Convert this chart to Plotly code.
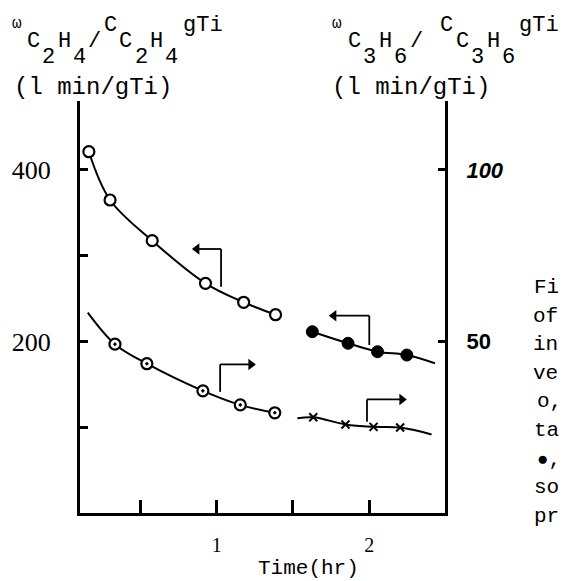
import plotly.graph_objects as go

# ---------------- data ----------------
# Time (hr)
t_c2h4_open = [0.163, 0.302, 0.578, 0.927, 1.177, 1.386]
w_c2h4_open = [421.1, 364.8, 317.4, 267.7, 245.6, 231.1]      # left axis

t_c3h6_dot = [0.334, 0.543, 0.910, 1.155, 1.381]
w_c3h6_dot = [49.2, 43.5, 35.6, 31.5, 29.2]                    # right axis

t_c2h4_solid = [1.627, 1.861, 2.054, 2.246]
w_c2h4_solid = [211.3, 197.8, 188.0, 184.1]                    # left axis

t_c3h6_x = [1.633, 1.844, 2.028, 2.202]
w_c3h6_x = [27.9, 25.8, 25.1, 24.9]                            # right axis

# hand-drawn curves: where each drawn curve starts / ends beyond the points
curve_c3h6_dot_start = (0.156, 58.4)
curve_c2h4_solid_end = (2.430, 174.5)
curve_c3h6_x_start = (1.529, 27.6)
curve_c3h6_x_end = (2.408, 22.9)

x_tickvals = [0.5, 1.0, 1.5, 2.0]
x_ticktext = ["", "1", "", "2"]
y_tickvals = [100, 200, 300, 400]
y_ticktext = ["", "200", "", "400"]
y2_tickvals = [50, 100]
y2_ticktext = ["<b>50</b>", "<b><i>100</i></b>"]

# axis headers, typewriter style: (text, level) per typed position
# level: 1 = raised, 0 = on the line, -1 = lowered
left_header = [("C", 0), ("2", -1), ("H", 0), ("4", -1), ("/", 0), ("C", 1),
               ("C", 0), ("2", -1), ("H", 0), ("4", -1), ("gTi", 1)]
right_header = [("C", 0), ("3", -1), ("H", 0), ("6", -1), ("/", 0), ("", 0), ("C", 1),
                ("C", 0), ("3", -1), ("H", 0), ("6", -1), ("gTi", 1)]
unit_text = "(l min/gTi)"
x_title = "Time(hr)"
caption_lines = ["Fi", "of", "in", "ve", "o,", "ta", "\u25cf,", "so", "pr"]

# ---------------- figure geometry ----------------
W, H = 563, 581
ML, MR, MT, MB = 78, 118, 101, 68
PW, PH = W - ML - MR, H - MT - MB
BOT = MT + PH
MONO = "Liberation Mono"
SERIF = "Liberation Serif"
XR = [0.105, 2.496]


def xp(px):
    return (px - ML) / PW


def yp(py):
    return (BOT - py) / PH


fig = go.Figure()

line_style = dict(color="black", width=2, shape="spline", smoothing=1.0)

# curves
fig.add_trace(go.Scatter(x=t_c2h4_open, y=w_c2h4_open, mode="lines",
                         line=line_style, hoverinfo="skip"))
fig.add_trace(go.Scatter(x=[curve_c3h6_dot_start[0]] + t_c3h6_dot,
                         y=[curve_c3h6_dot_start[1]] + w_c3h6_dot,
                         mode="lines", line=line_style, yaxis="y2", hoverinfo="skip"))
fig.add_trace(go.Scatter(x=t_c2h4_solid + [curve_c2h4_solid_end[0]],
                         y=w_c2h4_solid + [curve_c2h4_solid_end[1]],
                         mode="lines", line=line_style, hoverinfo="skip"))
fig.add_trace(go.Scatter(x=[curve_c3h6_x_start[0]] + t_c3h6_x + [curve_c3h6_x_end[0]],
                         y=[curve_c3h6_x_start[1]] + w_c3h6_x + [curve_c3h6_x_end[1]],
                         mode="lines", line=line_style, yaxis="y2", hoverinfo="skip"))

# markers
fig.add_trace(go.Scatter(x=t_c2h4_open, y=w_c2h4_open, mode="markers",
                         marker=dict(symbol="circle", size=11, color="white",
                                     line=dict(color="black", width=2.2))))
fig.add_trace(go.Scatter(x=t_c3h6_dot, y=w_c3h6_dot, mode="markers", yaxis="y2",
                         marker=dict(symbol="circle-dot", size=11, color="white",
                                     line=dict(color="black", width=2.2))))
fig.add_trace(go.Scatter(x=t_c2h4_solid, y=w_c2h4_solid, mode="markers",
                         marker=dict(symbol="circle", size=12, color="black",
                                     line=dict(color="black", width=1))))
fig.add_trace(go.Scatter(x=t_c3h6_x, y=w_c3h6_x, mode="markers", yaxis="y2",
                         marker=dict(symbol="x-thin", size=8, color="black",
                                     line=dict(color="black", width=2))))

# ---------------- bracket arrows (pointing to the axis each curve uses) ----------------
arrows = [
    # (x of stem, y stem bottom, y stem top, x arrow tip, axis)
    (1.029, 263.8, 307.7, 0.838, "y"),
    (1.023, 35.3, 43.3, 1.257, "y2"),
    (2.000, 195.8, 230.0, 1.735, "y"),
    (1.985, 26.6, 33.1, 2.246, "y2"),
]
px_per_hr = PW / (XR[1] - XR[0])
shapes = []
annotations = []
for xs, yb, yt, xtip, ax in arrows:
    direction = 1 if xtip > xs else -1
    shapes.append(dict(type="line", xref="x", yref=ax, x0=xs, x1=xs, y0=yb, y1=yt,
                       line=dict(color="black", width=1.8)))
    shapes.append(dict(type="line", xref="x", yref=ax, x0=xs, x1=xtip - direction * 5 / px_per_hr,
                       y0=yt, y1=yt, line=dict(color="black", width=1.8)))
    fig.add_trace(go.Scatter(
        x=[xtip - direction * 5 / px_per_hr], y=[yt], mode="markers",
        yaxis="y2" if ax == "y2" else "y", hoverinfo="skip",
        marker=dict(symbol="triangle-right" if direction > 0 else "triangle-left",
                    size=10, color="black", line=dict(width=0))))


def txt(s, px, py, size, xanchor="left", family=MONO, yanchor="middle"):
    annotations.append(dict(text=s, x=xp(px), y=yp(py), xref="paper", yref="paper",
                            xanchor=xanchor, yanchor=yanchor, showarrow=False,
                            borderpad=0, align="left",
                            font=dict(family=family, size=size, color="black")))


# ---------------- axis headers ----------------
STEP = 15.5
LEVEL_Y = {1: 26, 0: 41, -1: 57}
HF = 22


def header(parts, x0, omega_x):
    txt("\u03c9", omega_x, 24, 16, xanchor="center")
    i = 0
    for s, lvl in parts:
        if s:
            cx = x0 + STEP * (i + (len(s) - 1) / 2)
            txt(s, cx, LEVEL_Y[lvl], HF, xanchor="center")
        i += max(len(s), 1)


header(left_header, 31, 15)
header(right_header, 354, 336)
txt(unit_text, 10.5, 87, 24)
txt(unit_text, 330.5, 87, 24)

# x-axis title
txt(x_title, 308, 568, 21, xanchor="center")

# truncated caption at right edge
cap_x = [533, 532, 532, 532, 536, 533, 536, 533, 533]
for i, (s, cx) in enumerate(zip(caption_lines, cap_x)):
    if s.startswith("\u25cf"):
        s = "<span style='font-size:19px'>\u25cf</span>,"
    txt(s, cx, 287.5 + 28.6 * i, 21)

fig.update_layout(
    width=W, height=H,
    margin=dict(l=ML, r=MR, t=MT, b=MB, pad=0),
    paper_bgcolor="white", plot_bgcolor="white",
    showlegend=False,
    shapes=shapes, annotations=annotations,
    xaxis=dict(range=XR, showgrid=False, zeroline=False,
               showline=True, linecolor="black", linewidth=3,
               ticks="inside", ticklen=13, tickwidth=2.5, tickcolor="black",
               tickvals=x_tickvals, ticktext=x_ticktext,
               tickfont=dict(family=SERIF, size=20, color="black"),
               ticklabelstandoff=12),
    yaxis=dict(range=[0, 480.2], showgrid=False, zeroline=False,
               showline=True, linecolor="black", linewidth=3,
               ticks="inside", ticklen=8, tickwidth=2.5, tickcolor="black",
               tickvals=y_tickvals, ticktext=y_ticktext,
               tickfont=dict(family=SERIF, size=26, color="black"),
               ticklabelstandoff=21),
    yaxis2=dict(range=[0, 120.05], overlaying="y", side="right",
                showgrid=False, zeroline=False,
                showline=True, linecolor="black", linewidth=3,
                ticks="inside", ticklen=7, tickwidth=2.5, tickcolor="black",
                tickvals=y2_tickvals, ticktext=y2_ticktext,
                tickfont=dict(family="Liberation Sans", size=22, color="black"),
                ticklabelstandoff=14),
)

fig.write_html("out.html")
